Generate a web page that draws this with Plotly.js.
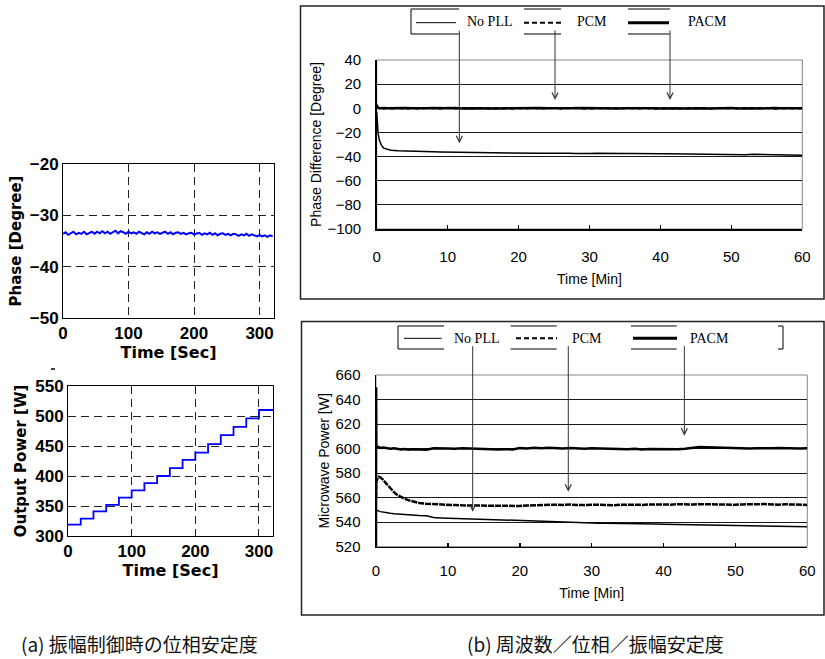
<!DOCTYPE html>
<html><head><meta charset="utf-8">
<script src="https://cdn.plot.ly/plotly-3.0.1.min.js"></script>
<style>html,body{margin:0;padding:0;background:#fff}</style>
</head><body><div id="chart" style="width:825px;height:659px"></div>
<script>
// ---------- data ----------
const phaseTime = [0,4,8,12,16,20,24,28,32,36,40,44,48,52,56,60,64,68,72,76,80,84,88,92,96,100,104,108,112,116,120,124,128,132,136,140,144,148,152,156,160,164,168,172,176,180,184,188,192,196,200,204,208,212,216,220,224,228,232,236,240,244,248,252,256,260,264,268,272,276,280,284,288,292,296,300,304,308,312,316,320];
const phaseDeg = [-33.6,-33.3,-33.8,-33.5,-33.2,-33.7,-33.4,-33.6,-33.2,-33.7,
  -33.4,-33.2,-33.6,-33.2,-33.5,-33.1,-33.5,-33.2,-33.6,-33.3,
  -33.0,-33.5,-33.1,-33.3,-33.6,-33.2,-33.5,-33.3,-33.6,-33.2,
  -33.5,-33.7,-33.3,-33.6,-33.2,-33.5,-33.3,-33.6,-33.4,-33.2,
  -33.6,-33.3,-33.7,-33.4,-33.3,-33.6,-33.4,-33.7,-33.5,-33.4,
  -33.7,-33.5,-33.4,-33.8,-33.5,-33.7,-33.4,-33.8,-33.5,-33.9,
  -33.6,-33.5,-33.8,-33.6,-33.9,-33.6,-33.7,-34.0,-33.7,-33.9,
  -33.6,-34.0,-33.7,-33.9,-34.1,-33.8,-34.1,-33.9,-34.2,-33.9,-34.1];
const stepTime = [0,20,40,60,80,100,120,140,160,180,200,220,240,260,280,300,322];
const stepPower = [319,329,341,352,364,376,388,400,413,427,439,453,468,482,496,510,510];

const minTop = [0,0.1,0.2,0.4,0.7,1,1.5,2,3,4,5,6,7,8,9,10,11,12,13,14,15,16,17,18,19,20,21,22,23,24,25,26,27,28,29,30,31,32,33,34,35,36,37,38,39,40,41,42,43,44,45,46,47,48,49,50,51,52,53,54,55,56,57,58,59,60];
const topNoPLL = [-3,-15,-21,-27,-31,-33,-34.2,-34.8,
  -35.2,-35.5,-35.7,-35.9,-36.0,-36.1,-36.2,-36.3,-36.5,-36.6,-36.7,-36.6,-36.9,-37.0,-37.2,-37.3,-37.2,-37.4,-37.3,-37.4,-37.3,-37.2,
  -37.0,-37.1,-37.2,-37.4,-37.6,-37.5,-37.3,-37.2,-37.1,-37.2,-37.4,-37.5,-37.4,-37.6,-37.7,-37.6,-37.7,-37.8,-37.7,-37.9,
  -37.8,-37.9,-38.0,-37.9,-38.1,-38.0,-38.2,-38.4,-38.1,-38.3,-38.0,-38.2,-38.4,-38.5,-38.7,-38.9];
const topPCM = [3,0.5,0.2,-0.3,0.1,-0.2,0.3,-0.1,
  0.2,-0.3,0.1,-0.4,0.3,0,-0.2,0.4,-0.1,0.2,-0.3,0.1,0.3,-0.2,0,0.2,-0.4,0.1,-0.1,0.3,-0.2,0,
  0.2,-0.3,0.1,0.4,-0.1,0,-0.3,0.2,0.1,-0.2,0.3,0,-0.1,0.2,-0.3,0.1,0.2,-0.2,0,0.3,
  -0.1,0.1,-0.4,0.2,0,0.1,-0.2,0.3,-0.1,0,0.2,-0.3,0.1,0,-0.2,0.1];
const topPACM = [2.5,0.8,0.3,0.1,-0.1,0.2,0,0.1,
  -0.1,0.2,0,-0.2,0.1,0.3,-0.1,0,0.2,-0.2,0.1,0,-0.3,0.2,0.1,-0.1,0,0.2,-0.2,0.1,0.3,0,
  -0.1,0.1,-0.2,0,0.2,0.1,-0.1,0.3,0,-0.2,0.1,0.2,-0.1,0,0.1,-0.2,0.2,0,-0.1,0.1,
  0.3,0,-0.2,0.1,0,0.2,-0.1,0.1,0,-0.2,0.1,0.2,0,-0.1,0.1,0];

const minBot = [0,0.02,0.05,0.2,0.4,0.6,1,1.5,2,2.5,3,3.5,4,4.5,5,5.5,6,7,8,9,10,11,12,13,14,15,16,17,18,19,20,21,22,23,24,25,26,27,28,29,30,31,32,33,34,35,36,37,38,39,40,41,42,43,44,45,46,47,48,49,50,51,52,53,54,55,56,57,58,59,60];
const botNoPLL = [550,550,549.8,549.3,549.0,548.6,548.1,547.6,547.2,546.9,546.6,546.3,546.1,545.9,545.7,545.5,
  545.4,545.2,543.8,543.5,543.3,543.0,542.7,542.5,542.2,541.8,541.6,541.4,541.2,541.0,540.8,540.6,540.5,540.3,540.1,
  539.8,539.6,539.5,539.4,539.3,539.3,539.2,539.1,539.1,539.0,539.0,538.9,538.8,538.7,538.5,538.4,538.3,538.2,538.1,538.0,
  537.9,537.8,537.5,537.4,537.3,537.2,537.1,537.0,536.9,536.9,536.8,536.7,536.6,536.5,536.3,536.2];
const botPCM = [560,568,573,575.5,577,576.5,574.5,571,567.5,564.5,562,560.3,559,558,557.2,556.2,
  555.6,555.0,554.6,554.3,554.1,553.9,553.7,553.6,553.8,553.5,553.7,553.4,553.6,553.3,553.2,553.6,553.9,554.2,554.0,
  554.3,554.1,554.4,553.9,554.2,554.0,554.3,554.1,553.8,554.2,554.0,554.3,554.1,554.4,554.2,554.5,554.3,554.6,554.2,554.4,
  554.7,554.5,554.3,554.6,554.4,554.2,554.5,554.3,554.6,554.8,554.5,554.3,554.6,554.4,554.2,554.0];
const botPACM = [520,650,602,601.5,601,600.5,600.8,600.2,599.8,600.3,599.5,599.2,599.6,599.0,599.4,599.2,
  599.5,599.0,600.2,600.4,600.1,599.8,600.3,600.0,599.7,599.3,599.6,599.2,599.5,599.3,600.4,600.1,600.6,600.3,600.7,
  600.4,600.0,600.5,600.2,599.8,600.3,600.1,599.9,600.2,599.7,599.4,599.8,599.3,599.6,599.5,599.2,599.7,599.4,599.9,600.8,
  601.3,601.1,600.9,600.6,600.4,600.2,600.5,600.1,600.3,600.0,600.2,600.4,600.1,600.3,600.0,600.2];

const legendNames = ['No PLL','PCM','PACM'];
const captionA = '(a) 振幅制御時の位相安定度';
const captionB = '(b) 周波数／位相／振幅安定度';

// ---------- helpers ----------
const W = 825, H = 659;
const PX = p => p / W, PY = p => 1 - p / H;
const boldTick = {family:'Liberation Sans, Arial, sans-serif', size:17, weight:'bold', color:'#000'};
const boldTitle = s => ({family:'DejaVu Sans, sans-serif', size:s, weight:'bold', color:'#000'});
const rTick = {family:'Liberation Sans, Arial, sans-serif', size:15, color:'#000'};
const rTitle = {family:'Liberation Sans, Arial, sans-serif', size:14, color:'#000'};

const traces = [
  {x: phaseTime, y: phaseDeg, xaxis:'x', yaxis:'y', mode:'lines', line:{color:'#0000ff', width:2}, name:'Phase'},
  {x: stepTime, y: stepPower, xaxis:'x2', yaxis:'y2', mode:'lines', line:{color:'#0000ff', width:1.8, shape:'hv'}, name:'Output Power'},
  {x: minTop, y: topNoPLL, xaxis:'x3', yaxis:'y3', mode:'lines', line:{color:'#000', width:1.5}, name:legendNames[0]},
  {x: minTop, y: topPCM, xaxis:'x3', yaxis:'y3', mode:'lines', line:{color:'#000', width:2, dash:'5px,3px'}, name:legendNames[1]},
  {x: minTop, y: topPACM, xaxis:'x3', yaxis:'y3', mode:'lines', line:{color:'#000', width:2.5}, name:legendNames[2]},
  {x: minBot, y: botNoPLL, xaxis:'x4', yaxis:'y4', mode:'lines', line:{color:'#000', width:1.5}, name:legendNames[0]},
  {x: minBot, y: botPCM, xaxis:'x4', yaxis:'y4', mode:'lines', line:{color:'#000', width:2.5, dash:'6px,1px'}, name:legendNames[1]},
  {x: minBot, y: botPACM, xaxis:'x4', yaxis:'y4', mode:'lines', line:{color:'#000', width:2.5}, name:legendNames[2]}
];

const leftX = (dom, anchor) => ({domain:dom, anchor:anchor, range:[0,322], tickvals:[0,100,200,300],
  showgrid:true, gridcolor:'#222', griddash:'8px,5px', gridwidth:1, zeroline:false,
  showline:true, mirror:true, linecolor:'#000', linewidth:1, ticks:'', tickfont:boldTick, ticklabelstandoff:0,
  title:{text:'Time [Sec]', font:boldTitle(16), standoff:1}});
const leftY = (dom, anchor, rng, tv, t) => ({domain:dom, anchor:anchor, range:rng, tickvals:tv,
  showgrid:true, gridcolor:'#222', griddash:'8px,5px', gridwidth:1, zeroline:false,
  showline:true, mirror:true, linecolor:'#000', linewidth:1, ticks:'', tickfont:boldTick, ticklabelstandoff:0,
  title:{text:t, font:boldTitle(15), standoff:4}});
const rightX = (dom, anchor, so, tso) => ({domain:dom, anchor:anchor, range:[0,60], dtick:10, tick0:0,
  showgrid:false, zeroline:false, showline:true, linecolor:'#000', linewidth:1.5,
  ticks:'inside', ticklen:4, tickwidth:1.5, tickcolor:'#000', tickfont:rTick, ticklabelstandoff:so,
  title:{text:'Time [Min]', font:rTitle, standoff:tso}});
const rightY = (dom, anchor, rng, t) => ({domain:dom, anchor:anchor, range:rng, dtick:20,
  showgrid:true, gridcolor:'#1a1a1a', gridwidth:1, zeroline:false, showline:true, linecolor:'#000', linewidth:1.5,
  ticks:'', tickfont:rTick, ticklabelstandoff:11,
  title:{text:t, font:rTitle, standoff:2}});

const shapes = [];
const line = (x0,y0,x1,y1,opt) => shapes.push(Object.assign({type:'line', xref:'paper', yref:'paper',
  x0:PX(x0), y0:PY(y0), x1:PX(x1), y1:PY(y1), line:{color:'#000', width:1}}, opt||{}));
// panel frames
shapes.push({type:'rect', xref:'paper', yref:'paper', x0:PX(300.5), y0:PY(6), x1:PX(824), y1:PY(299), line:{color:'#222', width:1.5}});
shapes.push({type:'rect', xref:'paper', yref:'paper', x0:PX(301.5), y0:PY(321.5), x1:PX(824), y1:PY(615), line:{color:'#222', width:1.5}});
// grey plot borders (right panels)
shapes.push({type:'rect', xref:'x3 domain', yref:'y3 domain', x0:0, y0:0, x1:1, y1:1, line:{color:'#888', width:1}, layer:'below'});
shapes.push({type:'rect', xref:'x4 domain', yref:'y4 domain', x0:0, y0:0, x1:1, y1:1, line:{color:'#888', width:1}, layer:'below'});
// top legend box pieces
line(411,9,411,34);
[[411,459],[524,561],[628,670]].forEach(s => { line(s[0],9,s[1],9); line(s[0],34,s[1],34); });
line(416,22.7,456,22.7,{line:{color:'#000', width:1}});
line(524,22.7,561,22.7,{line:{color:'#000', width:2, dash:'5px,3px'}});
line(628,22.7,669,22.7,{line:{color:'#000', width:3}});
// bottom legend box pieces
line(398,326,398,349);
line(783,326,783,349);
[[398,444],[510.7,556.7],[631,676.7],[778,783]].forEach(s => { line(s[0],326,s[1],326); line(s[0],349,s[1],349); });
line(404,338.3,441.7,338.3,{line:{color:'#000', width:1}});
line(516,338.3,557,338.3,{line:{color:'#000', width:2, dash:'5px,3px'}});
line(633,338.3,677,338.3,{line:{color:'#000', width:3}});
// small stray mark above 550 label
line(51,369,55,369,{line:{color:'#000', width:1.5}});

const serif = {family:'Liberation Serif, Times New Roman, serif', size:14, color:'#000'};
const ann = [];
const txt = (x,y,t,font,xa) => ann.push({xref:'paper', yref:'paper', x:PX(x), y:PY(y), text:t, showarrow:false,
  xanchor:xa||'center', yanchor:'middle', font:font});
txt(490,22,legendNames[0],serif); txt(592,22,legendNames[1],serif); txt(707.5,22,legendNames[2],serif);
txt(477,338,legendNames[0],serif); txt(586.5,338,legendNames[1],serif); txt(709,338,legendNames[2],serif);
const capFont = {family:'Noto Sans CJK JP, sans-serif', size:19, color:'#111'};
txt(19,643,captionA,capFont,'left');
txt(465,643,captionB,capFont,'left');
// arrows from legend entries to curves
const arrow = (xa,ya,x,y,ay) => ann.push({xref:xa, yref:ya, x:x, y:y, ax:0, ay:ay, axref:'pixel', ayref:'pixel',
  text:'', showarrow:true, arrowhead:5, arrowsize:1.2, arrowwidth:1, arrowcolor:'#333', standoff:0, startstandoff:0});
arrow('x3','y3',11.65,-29,-114);
arrow('x3','y3',25.14,6.9,-71);
arrow('x3','y3',41.35,6.9,-71);
arrow('x4','y4',13.45,548.5,-167);
arrow('x4','y4',26.75,564.9,-147);
arrow('x4','y4',42.9,610.5,-91);

const layout = {
  width:W, height:H, margin:{l:0,r:0,t:0,b:0}, paper_bgcolor:'#fff', plot_bgcolor:'#fff', showlegend:false,
  xaxis: leftX([PX(63),PX(274)], 'y'),
  yaxis: leftY([PY(318),PY(164)], 'x', [-50,-20], [-50,-40,-30,-20], 'Phase [Degree]'),
  xaxis2: leftX([PX(68),PX(273)], 'y2'),
  yaxis2: leftY([PY(536),PY(386)], 'x2', [300,550], [300,350,400,450,500,550], 'Output Power [W]'),
  xaxis3: rightX([PX(376.7),PX(802.3)], 'y3', 13, 10),
  yaxis3: rightY([PY(229),PY(60)], 'x3', [-100,40], 'Phase Difference [Degree]'),
  xaxis4: rightX([PX(376),PX(807.3)], 'y4', 10, 10),
  yaxis4: rightY([PY(546.7),PY(375)], 'x4', [520,660], 'Microwave Power [W]'),
  shapes: shapes, annotations: ann
};
Plotly.newPlot('chart', traces, layout, {displayModeBar:false, staticPlot:true});
</script></body></html>
